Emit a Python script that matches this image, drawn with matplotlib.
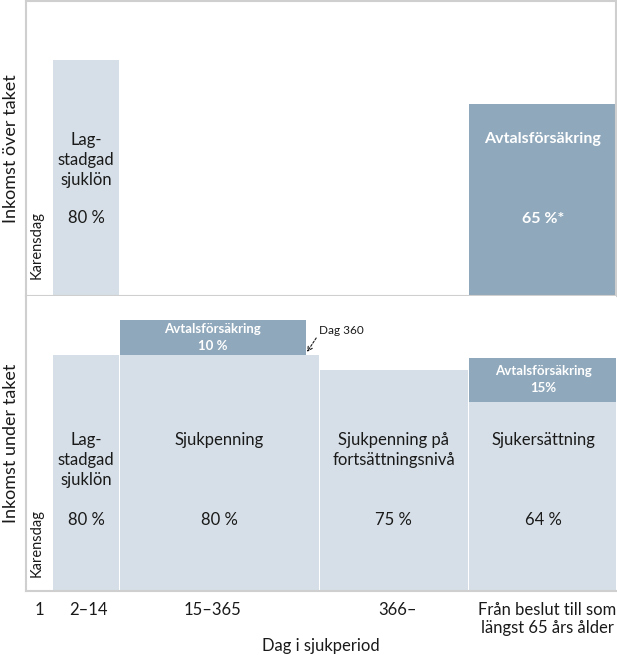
import matplotlib
matplotlib.use("Agg")
import matplotlib.pyplot as plt

plt.rcParams['font.family'] = ['Lato', 'DejaVu Sans']

# ---------------- data ----------------
tick_labels = ["1", "2–14", "15–365", "366–", "Från beslut till som\nlängst 65 års ålder"]
xlabel = "Dag i sjukperiod"
ylabel_top = "Inkomst över taket"
ylabel_bottom = "Inkomst under taket"

# above the ceiling (percent of income)
top_names = ["Lag-\nstadgad\nsjuklön", "Avtalsförsäkring"]
top_values = [80, 65]
top_value_labels = ["80 %", "65 %*"]

# below the ceiling: base benefits
bottom_names = ["Lag-\nstadgad\nsjuklön", "Sjukpenning", "Sjukpenning på\nfortsättningsnivå", "Sjukersättning"]
bottom_values = [80, 80, 75, 64]
bottom_value_labels = ["80 %", "80 %", "75 %", "64 %"]

# below the ceiling: collective-agreement top-ups (stacked)
topup_labels = ["Avtalsförsäkring\n10 %", "Avtalsförsäkring\n15%"]
topup_values = [12, 15]

karens_label = "Karensdag"
dag360_label = "Dag 360"

# ---------------- layout ----------------
W, H = 617, 655
LIGHT = "#d6dfe7"
DARK = "#8fa8bb"
FRAME = "#cfcfcf"
TXT = "#1a1a1a"

fig = plt.figure(figsize=(W / 100, H / 100), dpi=100)
left, right = 26 / W, 616 / W
ax_top = fig.add_axes([left, 1 - 296 / H, right - left, 295 / H])
ax_bot = fig.add_axes([left, 1 - 590.7 / H, right - left, 294.7 / H])

XMAX = 590
# column spans (x0, x1) in axis units
col_lag = (27, 93)
col_sjp = (94, 293)
col_top10 = (94, 279.5)
col_fort = (294, 441.5)
col_sjuk = (443, 591)
col_karens_center = 10.5

for ax in (ax_top, ax_bot):
    ax.set_xlim(0, XMAX)
    ax.set_ylim(0, 100)
    ax.set_yticks([])
    for s in ax.spines.values():
        s.set_color(FRAME)
        s.set_linewidth(1.5)

ax_top.set_xticks([])
ax_bot.spines['top'].set_visible(False)
ax_bot.spines['right'].set_visible(False)

def bar(ax, span, bottom, height, color):
    ax.bar((span[0] + span[1]) / 2, height, width=span[1] - span[0], bottom=bottom,
           color=color, edgecolor='none', linewidth=0, zorder=2)

FS = 12
LS = 1.3

# ---- top panel ----
bar(ax_top, col_lag, 0, top_values[0], LIGHT)
bar(ax_top, col_sjuk, 0, top_values[1], DARK)
cx = (col_lag[0] + col_lag[1]) / 2
ax_top.text(cx, 46.1, top_names[0], ha='center', va='center', fontsize=FS,
            color=TXT, linespacing=LS, zorder=3)
ax_top.text(cx, 26.4, top_value_labels[0], ha='center', va='center', fontsize=FS, color=TXT, zorder=3)
cx = (col_sjuk[0] + col_sjuk[1]) / 2
ax_top.text(cx, 53.2, top_names[1], ha='center', va='center', fontsize=11.5,
            color='white', fontweight='bold', zorder=3)
ax_top.text(cx, 26.1, top_value_labels[1], ha='center', va='center', fontsize=11.5,
            color='white', fontweight='bold', zorder=3)
ax_top.text(col_karens_center, 17.3, karens_label, rotation=90, ha='center', va='center',
            fontsize=10.5, color=TXT)
ax_top.set_ylabel(ylabel_top, fontsize=13, color=TXT, labelpad=5)

# ---- bottom panel ----
cols = [col_lag, col_sjp, col_fort, col_sjuk]
name_y = [44.3, 51.1, 47.7, 51.1]
for span, v, nm, vl, ny in zip(cols, bottom_values, bottom_names, bottom_value_labels, name_y):
    bar(ax_bot, span, 0, v, LIGHT)
    cx = (span[0] + span[1]) / 2
    ax_bot.text(cx, ny, nm, ha='center', va='center', fontsize=FS, color=TXT,
                linespacing=LS, zorder=3)
    ax_bot.text(cx, 24, vl, ha='center', va='center', fontsize=FS, color=TXT, zorder=3)

# top-ups
bar(ax_bot, col_top10, bottom_values[1], topup_values[0], DARK)
ax_bot.text((col_top10[0] + col_top10[1]) / 2, bottom_values[1] + topup_values[0] / 2,
            topup_labels[0], ha='center', va='center', fontsize=9.5, color='white',
            fontweight='bold', linespacing=1.5, zorder=3)
bar(ax_bot, col_sjuk, bottom_values[3], topup_values[1], DARK)
ax_bot.text((col_sjuk[0] + col_sjuk[1]) / 2, bottom_values[3] + topup_values[1] / 2,
            topup_labels[1], ha='center', va='center', fontsize=9.5, color='white',
            fontweight='bold', linespacing=1.5, zorder=3)

ax_bot.annotate(dag360_label, xy=(281, 81.0), xytext=(293, 88.3), fontsize=8.5,
                color=TXT, ha='left', va='center',
                arrowprops=dict(arrowstyle='->', linestyle=(0, (2, 1.5)), color=TXT,
                                lw=0.8, shrinkA=0, shrinkB=0, relpos=(0, 0.2)))

ax_bot.text(col_karens_center, 16.2, karens_label, rotation=90, ha='center', va='center',
            fontsize=10.5, color=TXT)
ax_bot.set_ylabel(ylabel_bottom, fontsize=13, color=TXT, labelpad=5)

tick_pos = [13.5, 62, 186, 372, 521]
ax_bot.set_xticks(tick_pos)
ax_bot.set_xticklabels(tick_labels, fontsize=FS, color=TXT, linespacing=1.2)
ax_bot.tick_params(axis='x', length=0, pad=8)
ax_bot.set_xlabel(xlabel, fontsize=FS, color=TXT, labelpad=1)

fig.savefig("out.png", dpi=100)
